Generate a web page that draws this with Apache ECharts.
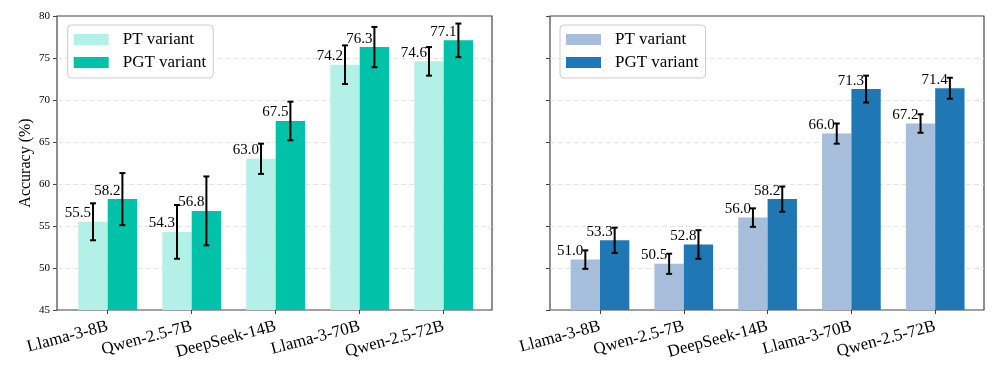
<!DOCTYPE html>
<html>
<head>
<meta charset="utf-8">
<script src="https://cdn.jsdelivr.net/npm/echarts@6/dist/echarts.min.js"></script>
<style>
  html, body { margin: 0; padding: 0; background: #fff; }
  #chart { width: 997px; height: 374px; }
</style>
</head>
<body>
<div id="chart"></div>
<script>
// data
const categories = ["Llama-3-8B", "Qwen-2.5-7B", "DeepSeek-14B", "Llama-3-70B", "Qwen-2.5-72B"];
const leftPT = [55.5, 54.3, 63.0, 74.2, 74.6];
const leftPTErr = [2.2, 3.2, 1.8, 2.3, 1.7];
const leftPGT = [58.2, 56.8, 67.5, 76.3, 77.1];
const leftPGTErr = [3.1, 4.1, 2.3, 2.4, 2.0];
const rightPT = [51.0, 50.5, 56.0, 66.0, 67.2];
const rightPTErr = [1.1, 1.2, 1.1, 1.2, 1.1];
const rightPGT = [53.3, 52.8, 58.2, 71.3, 71.4];
const rightPGTErr = [1.5, 1.7, 1.5, 1.6, 1.25];
const yMin = 45, yMax = 80, yStep = 5;

const serif = '"Liberation Serif", "DejaVu Serif", serif';
const frame = "#444";
const BAR_FRAC = 0.35;

// error bar + value label, side -1 = left bar, +1 = right bar
function errItems(vals, errs, side) {
  return vals.map((v, i) => [i, v, errs[i], side]);
}
function renderErr(params, api) {
  const i = api.value(0), v = api.value(1), e = api.value(2), side = api.value(3);
  const band = api.size([1, 0])[0];
  const cx = api.coord([i, v])[0] + side * band * BAR_FRAC / 2;
  const yTop = api.coord([i, v + e])[1];
  const yBot = api.coord([i, v - e])[1];
  const yBar = api.coord([i, v])[1];
  const cap = 3;
  const st = { stroke: "#000", lineWidth: 2 };
  return {
    type: "group",
    children: [
      { type: "line", shape: { x1: cx, y1: yTop, x2: cx, y2: yBot }, style: st },
      { type: "line", shape: { x1: cx - cap, y1: yTop, x2: cx + cap, y2: yTop }, style: st },
      { type: "line", shape: { x1: cx - cap, y1: yBot, x2: cx + cap, y2: yBot }, style: st },
      {
        type: "text",
        style: {
          text: v.toFixed(1), x: cx - 2, y: yBar - 1,
          align: "right", verticalAlign: "bottom",
          font: "15px " + serif, fill: "#000"
        }
      }
    ]
  };
}

function outerX(grid) {
  return { gridIndex: grid, type: "value", min: 0, max: 1, show: false };
}
function innerX(grid) {
  return {
    gridIndex: grid, type: "category", data: categories,
    axisLine: { show: false },
    axisTick: { show: true, alignWithLabel: true, length: 4, lineStyle: { color: frame } },
    axisLabel: { rotate: 15, margin: 16, color: "#000", fontFamily: serif, fontSize: 17, interval: 0 }
  };
}
function outerY(grid, labels) {
  return {
    gridIndex: grid, type: "value", min: yMin, max: yMax, interval: yStep,
    name: labels ? "Accuracy (%)" : "",
    nameLocation: "middle", nameGap: 23, nameRotate: 90,
    nameTextStyle: { fontFamily: serif, fontSize: 16, color: "#000" },
    axisLine: { show: false },
    axisTick: { show: true, length: 4, lineStyle: { color: frame } },
    axisLabel: { show: labels, margin: 7, color: "#000", fontFamily: serif, fontSize: 11 },
    splitLine: {
      show: true, showMinLine: false, showMaxLine: false,
      lineStyle: { color: "#dddddd", type: [5, 3], width: 0.8 }
    }
  };
}
function innerY(grid) {
  return { gridIndex: grid, type: "value", min: yMin, max: yMax, show: false };
}

function legendFor(left, names) {
  return {
    left: left, top: 25, orient: "vertical",
    data: names,
    icon: "rect", itemWidth: 35, itemHeight: 11, itemGap: 6,
    backgroundColor: "rgba(255,255,255,0.85)",
    borderColor: "#cccccc", borderWidth: 1, borderRadius: 4,
    padding: [6, 7, 7, 6],
    textStyle: { fontFamily: serif, fontSize: 17, color: "#000", padding: [0, 0, 0, 9] },
    formatter: n => n.replace(/ R$/, "")
  };
}

const chart = echarts.init(document.getElementById("chart"));
chart.setOption({
  animation: false,
  grid: [
    { left: 57, top: 16, width: 435, height: 294, show: true, borderColor: frame, borderWidth: 1.2 },
    { left: 65.7, top: 16, width: 420, height: 294 },
    { left: 550, top: 16, width: 434, height: 294, show: true, borderColor: frame, borderWidth: 1.2 },
    { left: 558.1, top: 16, width: 419, height: 294 }
  ],
  xAxis: [outerX(0), innerX(1), outerX(2), innerX(3)],
  yAxis: [outerY(0, true), innerY(1), outerY(2, false), innerY(3)],
  legend: [
    legendFor(67.7, ["PT variant", "PGT variant"]),
    legendFor(560, ["PT variant R", "PGT variant R"])
  ],
  series: [
    { name: "PT variant", type: "bar", xAxisIndex: 1, yAxisIndex: 1, data: leftPT,
      barWidth: "35%", barGap: "0%", itemStyle: { color: "#b3f1e8" } },
    { name: "PGT variant", type: "bar", xAxisIndex: 1, yAxisIndex: 1, data: leftPGT,
      barWidth: "35%", barGap: "0%", itemStyle: { color: "#00c2a8" } },
    { type: "custom", xAxisIndex: 1, yAxisIndex: 1, z: 5, renderItem: renderErr,
      data: errItems(leftPT, leftPTErr, -1).concat(errItems(leftPGT, leftPGTErr, 1)) },
    { name: "PT variant R", type: "bar", xAxisIndex: 3, yAxisIndex: 3, data: rightPT,
      barWidth: "35%", barGap: "0%", itemStyle: { color: "#a6bddb" } },
    { name: "PGT variant R", type: "bar", xAxisIndex: 3, yAxisIndex: 3, data: rightPGT,
      barWidth: "35%", barGap: "0%", itemStyle: { color: "#1f77b4" } },
    { type: "custom", xAxisIndex: 3, yAxisIndex: 3, z: 5, renderItem: renderErr,
      data: errItems(rightPT, rightPTErr, -1).concat(errItems(rightPGT, rightPGTErr, 1)) }
  ]
});
</script>
</body>
</html>
